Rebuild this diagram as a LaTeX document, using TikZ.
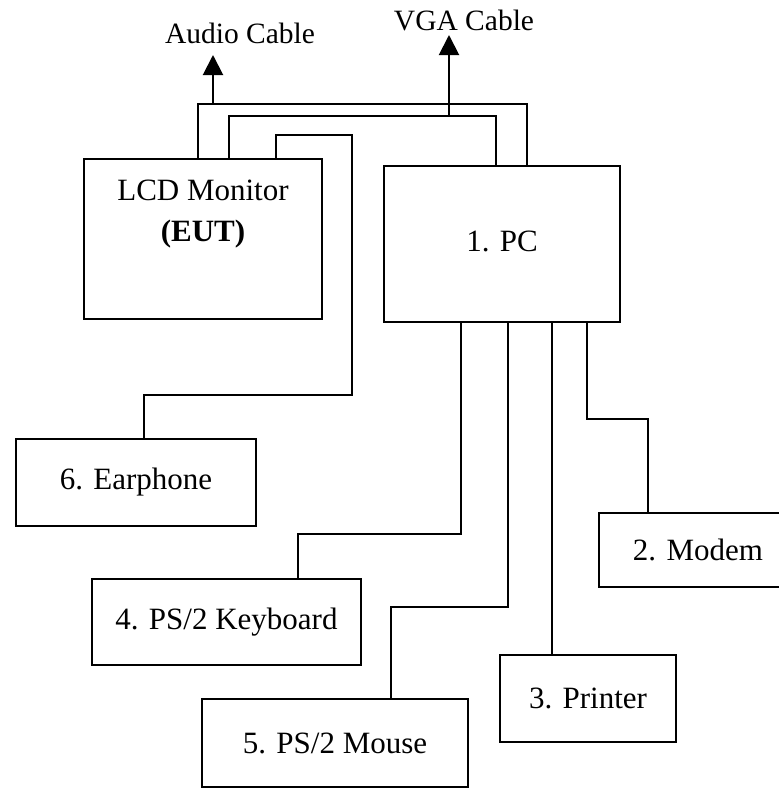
\documentclass[tikz,border=0pt]{standalone}
\usepackage{fontspec}
\setmainfont{Liberation Serif}
\usetikzlibrary{arrows.meta}

\begin{document}
\begin{tikzpicture}[x=1pt,y=-1pt,
  box/.style={draw,line width=2.4pt,inner sep=0pt},
  boxtext/.style={font=\fontsize{31}{41}\selectfont,inner sep=0pt,align=center},
  cable/.style={line width=2pt},
  cablelabel/.style={font=\fontsize{29.5}{34}\selectfont,inner sep=0pt,anchor=base},
  tip/.style={-{Triangle[length=20pt,width=20pt]}}]
  \clip (0,0) rectangle (779,788);
  \fill[white] (0,0) rectangle (779,788);
  \node[box,minimum width=238pt,minimum height=160pt,
    label={[boxtext,anchor=north,yshift=-22pt]north:LCD Monitor\\\textbf{(EUT)}}] (lcd) at (203,239) {};
  \node[box,minimum width=236pt,minimum height=156pt,
    label={[boxtext,anchor=base,yshift=3pt]center:1. PC}] (pc) at (502,244) {};
  \node[box,boxtext,minimum width=240pt,minimum height=87pt] (earphone) at (136,482.5) {6. Earphone};
  \node[box,boxtext,minimum width=269pt,minimum height=86pt] (keyboard) at (226.5,622) {4. PS/2 Keyboard};
  \node[box,boxtext,minimum width=266pt,minimum height=88pt] (mouse) at (335,743) {5. PS/2 Mouse};
  \node[box,boxtext,minimum width=176pt,minimum height=87pt] (printer) at (588,698.5) {3. Printer};
  \node[box,boxtext,minimum width=198pt,minimum height=74pt] (modem) at (698,550) {2. Modem};
  \node[cablelabel] (audiolabel) at (240,43) {Audio Cable};
  \node[cablelabel] (vgalabel) at (464,30) {VGA Cable};
  \coordinate (audio) at (213,104);
  \coordinate (audiotip) at (213,55);
  \coordinate (vga) at (449,116);
  \coordinate (vgatip) at (449,35);
  \draw[cable] (lcd.north -| 198,0) |- (527,104) -- (pc.north -| 527,0);
  \draw[cable,tip] (audio) -- (audiotip);
  \draw[cable] (lcd.north -| 229,0) |- (496,116) -- (pc.north -| 496,0);
  \draw[cable,tip] (vga) -- (vgatip);
  \draw[cable] (lcd.north -| 276,0) |- (352,135) |- (144,395) -- (earphone.north -| 144,0);
  \draw[cable] (pc.south -| 461,0) |- (298,534) -- (keyboard.north -| 298,0);
  \draw[cable] (pc.south -| 508,0) |- (391,607) -- (mouse.north -| 391,0);
  \draw[cable] (pc.south -| 552,0) -- (printer.north -| 552,0);
  \draw[cable] (pc.south -| 587,0) |- (648,419) -- (modem.north -| 648,0);
\end{tikzpicture}
\end{document}
